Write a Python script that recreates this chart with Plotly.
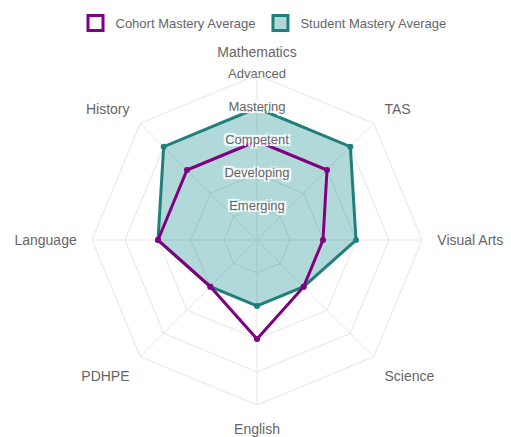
import plotly.graph_objects as go

subjects = ["Mathematics", "TAS", "Visual Arts", "Science", "English", "PDHPE", "Language", "History"]
student = [4, 4, 3, 2, 2, 2, 3, 4]
cohort = [3, 3, 2, 2, 3, 2, 3, 3]
level_vals = [1, 2, 3, 4, 5]
level_names = ["Emerging", "Developing", "Competent", "Mastering", "Advanced"]

teal = "#1f7f7b"
purple = "#800080"
teal_fill = "rgba(0,128,128,0.3)"

fig = go.Figure()
fig.add_trace(go.Scatterpolar(
    r=student + student[:1], theta=subjects + subjects[:1],
    name="Student Mastery Average", mode="lines+markers", showlegend=False,
    line=dict(color=teal, width=3), marker=dict(color=teal, size=6),
    fill="toself", fillcolor=teal_fill,
))
fig.add_trace(go.Scatterpolar(
    r=cohort + cohort[:1], theta=subjects + subjects[:1],
    name="Cohort Mastery Average", mode="lines+markers", showlegend=False,
    line=dict(color=purple, width=3), marker=dict(color=purple, size=6),
))
# legend swatches (boxes)
fig.add_trace(go.Scatterpolar(
    r=[None], theta=[None], name="Cohort Mastery Average", mode="markers",
    marker=dict(symbol="square", size=15, color="white", line=dict(color=purple, width=3)),
    legendrank=1, hoverinfo="skip",
))
fig.add_trace(go.Scatterpolar(
    r=[None], theta=[None], name="Student Mastery Average", mode="markers",
    marker=dict(symbol="square", size=15, color="rgb(178,217,217)", line=dict(color=teal, width=3)),
    legendrank=2, hoverinfo="skip",
))
fig.add_trace(go.Scatterpolar(
    r=level_vals, theta=[subjects[0]] * len(level_vals), text=level_names,
    mode="text", showlegend=False, hoverinfo="skip", cliponaxis=False,
    textfont=dict(family="Liberation Sans, Arial", size=13, color="#666666",
                  shadow="2px 2px 0 #fff, -2px -2px 0 #fff, 2px -2px 0 #fff, -2px 2px 0 #fff, 0 0 4px #fff, 0 0 4px #fff"),
))

fig.update_layout(
    width=511, height=437,
    margin=dict(l=0, r=0, t=0, b=0),
    paper_bgcolor="white", plot_bgcolor="white",
    font=dict(family="Liberation Sans, Arial", color="#666666"),
    showlegend=True,
    legend=dict(orientation="h", x=0.5, xanchor="center", y=1.0, yanchor="top",
                font=dict(size=13, color="#666666"), itemsizing="trace"),
    polar=dict(
        domain=dict(x=[0.1644, 0.8102], y=[0.0915, 0.8467]),
        bgcolor="white",
        gridshape="linear",
        radialaxis=dict(range=[0, 5], tickvals=level_vals, showticklabels=False,
                        showline=False, ticks="", gridcolor="#e6e6e6", angle=90),
        angularaxis=dict(direction="clockwise", rotation=90,
                         gridcolor="#e6e6e6", linecolor="#e6e6e6",
                         ticks="outside", ticklen=12, tickcolor="rgba(0,0,0,0)",
                         tickfont=dict(size=14, color="#666666")),
    ),
)

fig.write_html("out.html")
